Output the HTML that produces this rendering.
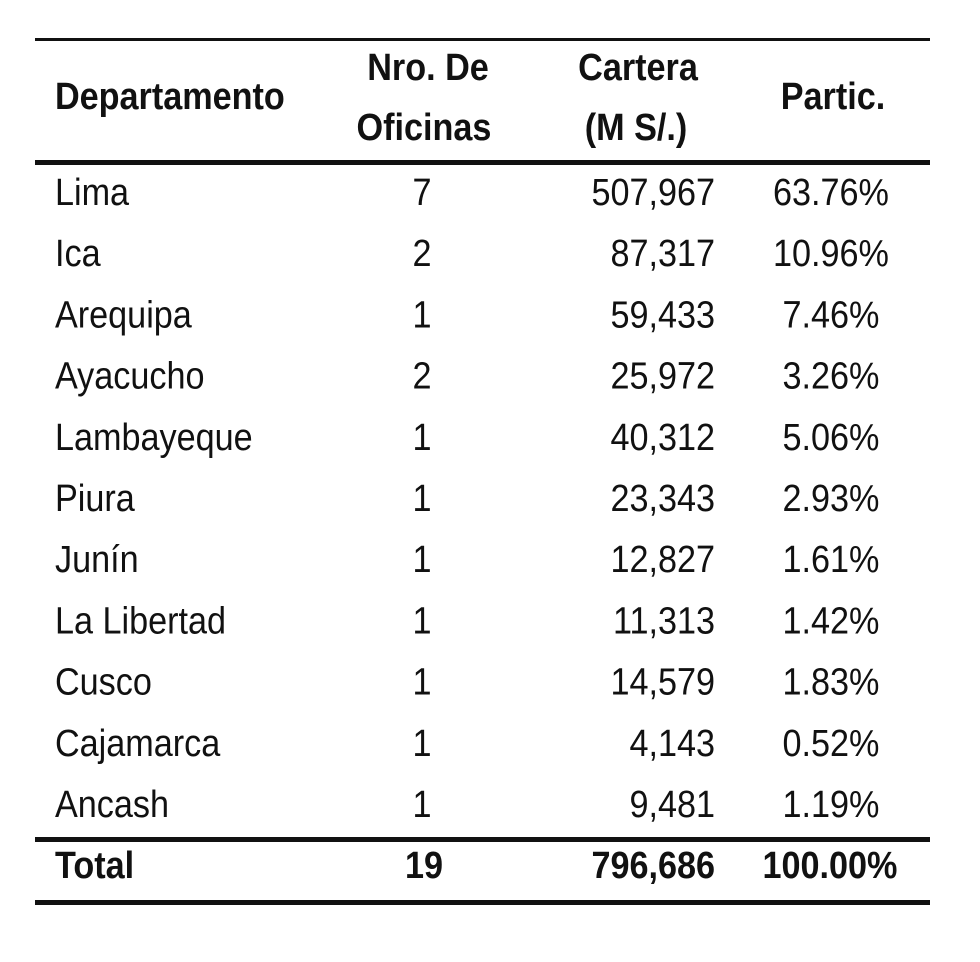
<!DOCTYPE html>
<html><head><meta charset="utf-8"><style>
html,body{margin:0;padding:0;background:#fff;width:980px;height:962px;overflow:hidden}
svg text{font-family:"Liberation Sans",sans-serif;fill:#111}
</style></head><body>
<svg id="tbl" width="980" height="962">
<rect x="35" y="38" width="895" height="3" fill="#111"/>
<rect x="35" y="160" width="895" height="5" fill="#111"/>
<rect x="35" y="837" width="895" height="5" fill="#111"/>
<rect x="35" y="900" width="895" height="5" fill="#111"/>
<g id="txt" transform="scale(0.9,1)"></g>
</svg>
<script>
const depts=["Lima","Ica","Arequipa","Ayacucho","Lambayeque","Piura","Junín","La Libertad","Cusco","Cajamarca","Ancash"];
const oficinas=["7","2","1","2","1","1","1","1","1","1","1"];
const cartera=["507,967","87,317","59,433","25,972","40,312","23,343","12,827","11,313","14,579","4,143","9,481"];
const partic=["63.76%","10.96%","7.46%","3.26%","5.06%","2.93%","1.61%","1.42%","1.83%","0.52%","1.19%"];
const total=["Total","19","796,686","100.00%"];
const S=0.9,g=document.getElementById('txt');
function t(str,x,y,anchor,bold,name){
  const e=document.createElementNS('http://www.w3.org/2000/svg','text');
  e.setAttribute('x',x/S);e.setAttribute('y',y);
  e.setAttribute('text-anchor',anchor);
  e.setAttribute('font-size','38');
  if(bold)e.setAttribute('font-weight','bold');
  e.textContent=str;
  
  
  g.appendChild(e);
}
t("Departamento",55,109,"start",1,"header-departamento");
t("Nro. De",428,80,"middle",1,"header-nro-de");
t("Oficinas",424,140,"middle",1,"header-oficinas");
t("Cartera",638,80,"middle",1,"header-cartera");
t("(M S/.)",636,140,"middle",1,"header-moneda");
t("Partic.",833,109,"middle",1,"header-partic");
depts.forEach((d,i)=>{
  const y=205+i*61.2;
  t(d,55,y,"start",0,"dept-name");
  t(oficinas[i],422,y,"middle",0,"oficinas-value");
  t(cartera[i],715,y,"end",0,"cartera-value");
  t(partic[i],831,y,"middle",0,"partic-value");
});
t(total[0],55,878,"start",1,"total-label");
t(total[1],424,878,"middle",1,"total-oficinas");
t(total[2],715,878,"end",1,"total-cartera");
t(total[3],830,878,"middle",1,"total-partic");
</script>
</body></html>
